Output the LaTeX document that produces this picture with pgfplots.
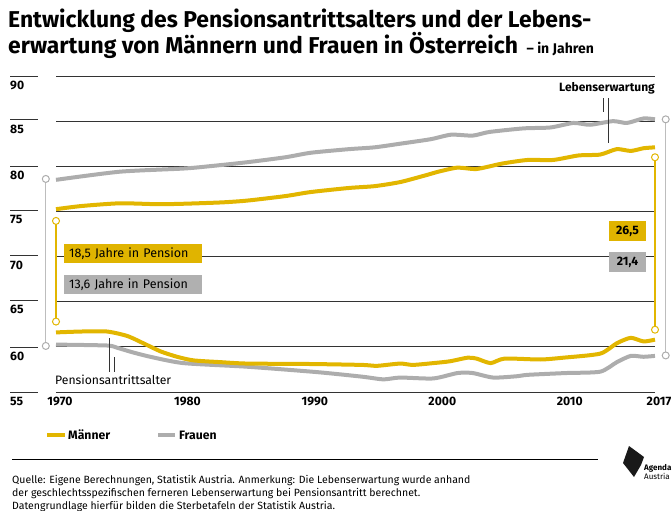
\documentclass[border=0pt]{standalone}
\usepackage{fontspec}
\setmainfont{Fira Sans}
\usepackage{pgfplots}
\pgfplotsset{compat=1.18}
\definecolor{myY}{HTML}{E2B600}
\definecolor{myG}{HTML}{ADADAD}
\definecolor{boxY}{HTML}{E0B400}
\definecolor{boxG}{HTML}{B0B0B0}
\definecolor{gridc}{HTML}{333333}
\begin{document}
\begin{tikzpicture}[x=1pt,y=-1pt]
\path[use as bounding box] (0,0) rectangle (672,511);
% title
\node[anchor=base west, inner sep=0, font=\fontsize{22.9}{25}\selectfont\bfseries] at (8,28) {Entwicklung des Pensionsantrittsalters und der Lebens-};
\node[anchor=base west, inner sep=0, font=\fontsize{22.9}{25}\selectfont\bfseries] at (8,54) {erwartung von Männern und Frauen in Österreich {\fontsize{14}{16}\selectfont\ – in Jahren}};
% left grid segments and labels
\foreach \v/\yy in {90/76,85/119.5,80/166,75/210.5,70/255.7,65/300,60/347,55/392}{
  \draw[gridc, line width=0.9pt] (10,\yy) -- (38,\yy);
  \node[anchor=north west, inner sep=0, font=\fontsize{12.2}{14}\selectfont\bfseries] at (10,\yy+5) {\v};
}
\begin{axis}[at={(56pt,-392pt)}, anchor=south west, scale only axis, width=599pt, height=316pt,
  xmin=1970, xmax=2017, ymin=55, ymax=90, clip=false,
  axis line style={draw=none}, tick style={draw=none},
  ytick={55,60,...,90}, yticklabels={},
  ymajorgrids, grid style={gridc, line width=0.9pt},
  xtick={1970,1980,1990,2000,2010,2017},
  xticklabels={1970,1980,1990,2000,2010,2017},
  xticklabel style={font=\fontsize{12.2}{14}\selectfont\bfseries, xshift=4pt, yshift=-2pt},
  ]
\addplot[myG, line width=4pt, smooth, tension=0.4, line join=round] coordinates {
(1970,78.5) (1975,79.4) (1980,79.75) (1982,80.0) (1985,80.45) (1988,81.0) (1990,81.5) (1993,81.9)
(1995,82.1) (1997,82.5) (1999.4,83.0) (2001,83.5) (2002.7,83.4) (2004,83.8) (2006.7,84.2)
(2008.8,84.3) (2010.6,84.8) (2011.9,84.6) (2013.7,85.0) (2014.8,84.8) (2016.1,85.3) (2017,85.2)};
\addplot[myY, line width=4pt, smooth, tension=0.4, line join=round] coordinates {
(1970,75.25) (1972,75.6) (1975,75.9) (1978,75.8) (1980,75.85) (1983,76.0) (1985,76.2) (1988,76.7)
(1990,77.15) (1993,77.6) (1995,77.8) (1997,78.25) (1999,79.0) (2000,79.4) (2001.5,79.85) (2003,79.7)
(2005,80.3) (2007,80.7) (2009,80.7) (2011,81.2) (2012.7,81.3) (2014,81.9) (2015.1,81.7)
(2016.1,82.0) (2017,82.1)};
\addplot[myG, line width=4pt, smooth, tension=0.4, line join=round] coordinates {
(1970,60.25) (1974,60.15) (1974.8,59.9) (1976,59.4) (1977.4,58.9) (1980,58.2) (1985,57.8)
(1990.5,57.2) (1994,56.7) (1995.7,56.4) (1997,56.6) (1999.6,56.5) (2001.5,57.1) (2002.7,57.1)
(2004.3,56.6) (2006.2,56.75) (2007,56.9) (2010,57.1) (2012.7,57.25) (2014,58.3) (2015.1,59.0)
(2016.1,58.9) (2017,59.0)};
\addplot[myY, line width=4pt, smooth, tension=0.4, line join=round] coordinates {
(1970,61.6) (1972,61.7) (1974,61.7) (1975.6,61.2) (1977,60.3) (1978.2,59.5) (1979.5,58.9)
(1980.8,58.5) (1983,58.3) (1985,58.15) (1990,58.1) (1994,58.0) (1995.2,57.9) (1997,58.15)
(1998,58.0) (1999.6,58.2) (2000.9,58.4) (2002.3,58.8) (2003,58.7) (2004.1,58.2) (2005.2,58.7)
(2008,58.6) (2009.8,58.8) (2012.7,59.25) (2014,60.4) (2015.1,61.0) (2016.1,60.6) (2017,60.8)};
% range bars
\addplot[myG!80, line width=1.2pt, mark=*, mark size=3.5pt, mark options={fill=white, draw=myG, line width=1pt}] coordinates {(1969.2,78.6) (1969.2,60.1)};
\addplot[myY, line width=1.2pt, mark=*, mark size=3.5pt, mark options={fill=white, draw=myY, line width=1pt}] coordinates {(1970,73.95) (1970,62.8)};
\addplot[myG!80, line width=1.2pt, mark=*, mark size=3.5pt, mark options={fill=white, draw=myG, line width=1pt}] coordinates {(2017.84,85.2) (2017.84,59.05)};
\addplot[myY, line width=1.2pt, mark=*, mark size=3.5pt, mark options={fill=white, draw=myY, line width=1pt}] coordinates {(2017,81.0) (2017,61.9)};
\end{axis}
% boxes
\node[fill=boxY, anchor=west, text width=128pt, inner xsep=5pt, minimum height=19pt, align=left, font=\fontsize{12.5}{14}\selectfont] at (64,253.5) {18,5 Jahre in Pension};
\node[fill=boxG, anchor=west, text width=128pt, inner xsep=5pt, minimum height=19pt, align=left, font=\fontsize{12.5}{14}\selectfont] at (64,284.5) {13,6 Jahre in Pension};
\node[fill=boxY, minimum width=37pt, minimum height=20pt, inner sep=0, font=\fontsize{12.2}{14}\selectfont\bfseries] at (627.5,231) {26,5};
\node[fill=boxG, minimum width=37pt, minimum height=20pt, inner sep=0, font=\fontsize{12.2}{14}\selectfont\bfseries] at (627.5,262) {21,4};
% pointers
\draw[gridc, line width=0.9pt] (109,338) -- (109,372);
\draw[gridc, line width=0.9pt] (114,357) -- (114,372);
\draw[gridc, line width=0.9pt] (603,98) -- (603,112);
\draw[gridc, line width=0.9pt] (608,98) -- (608,143);
\node[anchor=west, inner sep=0, font=\fontsize{12.2}{14}\selectfont] at (55,380) {Pensionsantrittsalter};
\node[anchor=east, inner sep=0, font=\fontsize{12}{14}\selectfont\bfseries] at (655,88) {Lebenserwartung};
% legend
\draw[myY, line width=4pt] (47,435) -- (65,435);
\node[anchor=west, inner sep=0, font=\fontsize{12.2}{14}\selectfont\bfseries] at (68,435) {Männer};
\draw[myG, line width=4pt] (158,435) -- (175,435);
\node[anchor=west, inner sep=0, font=\fontsize{12.2}{14}\selectfont\bfseries] at (179,435) {Frauen};
% footer
\draw[black, line width=0.9pt] (12,459) -- (598,459);
\node[anchor=base west, inner sep=0, font=\fontsize{10.5}{13}\selectfont] at (12,483) {Quelle: Eigene Berechnungen, Statistik Austria. Anmerkung: Die Lebenserwartung wurde anhand};
\node[anchor=base west, inner sep=0, font=\fontsize{10.5}{13}\selectfont] at (12,496) {der geschlechtsspezifischen ferneren Lebenserwartung bei Pensionsantritt berechnet.};
\node[anchor=base west, inner sep=0, font=\fontsize{10.5}{13}\selectfont] at (12,509) {Datengrundlage hierfür bilden die Sterbetafeln der Statistik Austria.};
% logo
\fill[black!90] (629,446) -- (644,457) -- (641,465) -- (634,477) -- (623,463) -- cycle;
\node[anchor=base west, inner sep=0, font=\fontsize{8}{9}\selectfont\bfseries] at (644,470) {Agenda};
\node[anchor=base west, inner sep=0, font=\fontsize{8}{9}\selectfont] at (644,479) {Austria};
\end{tikzpicture}
\end{document}
